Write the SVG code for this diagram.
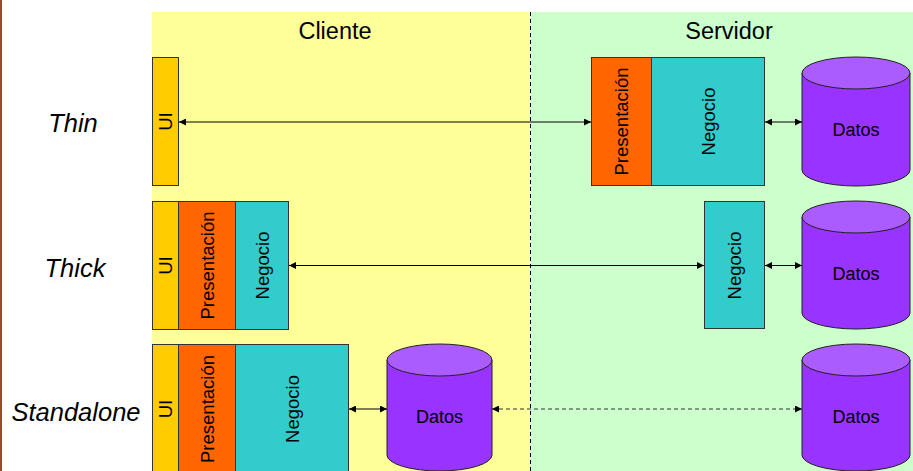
<svg xmlns="http://www.w3.org/2000/svg" width="913" height="471" viewBox="0 0 913 471">
  <defs>
    <marker id="ah" viewBox="0 0 10 10" refX="10" refY="5" markerWidth="9" markerHeight="7" markerUnits="userSpaceOnUse" orient="auto-start-reverse">
      <path d="M0,0 L10,5 L0,10 Z" fill="#000"/>
    </marker>
  </defs>
  <style>
    text { font-family: "Liberation Sans", Arial, sans-serif; fill: #000; }
    .zone { font-size: 23.5px; text-anchor: middle; }
    .row { font-size: 25.5px; font-style: italic; text-anchor: middle; }
    .lbl { font-size: 18.5px; text-anchor: middle; }
    .db { font-size: 18px; text-anchor: middle; }
    .box { stroke: #333; stroke-width: 1; }
    .ui { fill: #FFCC00; }
    .pres { fill: #FF6600; }
    .neg { fill: #33CCCC; }
    .body { fill: #9933FF; stroke: #222; stroke-width: 1; }
    .lid { fill: #AA5CFF; stroke: #222; stroke-width: 1; }
    .link { stroke: #000; stroke-width: 1; fill: none; marker-start: url(#ah); marker-end: url(#ah); }
    .dash { stroke-dasharray: 4 3; stroke: #333; }
  </style>

  <!-- page background and left rule -->
  <rect x="0" y="0" width="913" height="471" fill="#fff"/>
  <rect x="0" y="0" width="2" height="471" fill="#9A4A1E"/>

  <!-- client / server zones -->
  <g id="zones">
    <rect x="152" y="12" width="378" height="459" fill="#FFFF99"/>
    <rect x="530" y="12" width="383" height="459" fill="#CCFFCC"/>
    <line x1="530.5" y1="12" x2="530.5" y2="471" stroke="#000" stroke-width="1" stroke-dasharray="4 3"/>
    <text class="zone" x="335" y="39">Cliente</text>
    <text class="zone" x="729" y="39">Servidor</text>
  </g>

  <!-- row labels -->
  <g id="row-labels">
    <text class="row" x="73" y="132">Thin</text>
    <text class="row" x="75" y="277">Thick</text>
    <text class="row" x="76" y="421">Standalone</text>
  </g>

  <!-- Thin client -->
  <g id="thin-ui">
    <rect class="box ui" x="152.5" y="57.5" width="26" height="128"/>
    <text class="lbl" transform="translate(165.5,121.5) rotate(-90)" y="6.5">UI</text>
  </g>
  <g id="thin-server">
    <rect class="box pres" x="591.5" y="57.5" width="60" height="128"/>
    <rect class="box neg" x="651.5" y="57.5" width="113" height="128"/>
    <text class="lbl" transform="translate(621.5,121.5) rotate(-90)" y="6.5">Presentación</text>
    <text class="lbl" transform="translate(708,121.5) rotate(-90)" y="6.5">Negocio</text>
  </g>
  <g id="thin-db">
    <path class="body" d="M802,73 V170 A54,16 0 0 0 910,170 V73 Z"/>
    <ellipse class="lid" cx="856" cy="73" rx="54" ry="16"/>
    <text class="db" x="856" y="136">Datos</text>
  </g>

  <!-- Thick client -->
  <g id="thick-client">
    <rect class="box ui" x="152.5" y="201.5" width="26" height="128"/>
    <rect class="box pres" x="178.5" y="201.5" width="57" height="128"/>
    <rect class="box neg" x="235.5" y="201.5" width="53" height="128"/>
    <text class="lbl" transform="translate(165.5,265.5) rotate(-90)" y="6.5">UI</text>
    <text class="lbl" transform="translate(207,265.5) rotate(-90)" y="6.5">Presentación</text>
    <text class="lbl" transform="translate(262,265.5) rotate(-90)" y="6.5">Negocio</text>
  </g>
  <g id="thick-server">
    <rect class="box neg" x="704.5" y="201.5" width="60" height="127"/>
    <text class="lbl" transform="translate(734.5,265.5) rotate(-90)" y="6.5">Negocio</text>
  </g>
  <g id="thick-db">
    <path class="body" d="M802,217 V313 A54,16 0 0 0 910,313 V217 Z"/>
    <ellipse class="lid" cx="856" cy="217" rx="54" ry="16"/>
    <text class="db" x="856" y="280">Datos</text>
  </g>

  <!-- Standalone -->
  <g id="standalone-client">
    <rect class="box ui" x="152.5" y="344.5" width="26" height="140"/>
    <rect class="box pres" x="178.5" y="344.5" width="57" height="140"/>
    <rect class="box neg" x="235.5" y="344.5" width="113" height="140"/>
    <text class="lbl" transform="translate(165.5,409) rotate(-90)" y="6.5">UI</text>
    <text class="lbl" transform="translate(207,409) rotate(-90)" y="6.5">Presentación</text>
    <text class="lbl" transform="translate(292,409) rotate(-90)" y="6.5">Negocio</text>
  </g>
  <g id="standalone-db">
    <path class="body" d="M387,360 V455 A52.5,16 0 0 0 492,455 V360 Z"/>
    <ellipse class="lid" cx="439.5" cy="360" rx="52.5" ry="16"/>
    <text class="db" x="439.5" y="423">Datos</text>
  </g>
  <g id="server-db">
    <path class="body" d="M802,360 V455 A54,16 0 0 0 910,455 V360 Z"/>
    <ellipse class="lid" cx="856" cy="360" rx="54" ry="16"/>
    <text class="db" x="856" y="423">Datos</text>
  </g>

  <!-- connectors -->
  <g id="connectors">
    <line class="link" x1="179" y1="122" x2="591" y2="122"/>
    <line class="link" x1="765" y1="122" x2="802" y2="122"/>
    <line class="link" x1="289" y1="265.5" x2="704" y2="265.5"/>
    <line class="link" x1="765" y1="265.5" x2="802" y2="265.5"/>
    <line class="link" x1="349" y1="409" x2="387" y2="409"/>
    <line class="link dash" x1="492" y1="409" x2="802" y2="409"/>
  </g>
</svg>
